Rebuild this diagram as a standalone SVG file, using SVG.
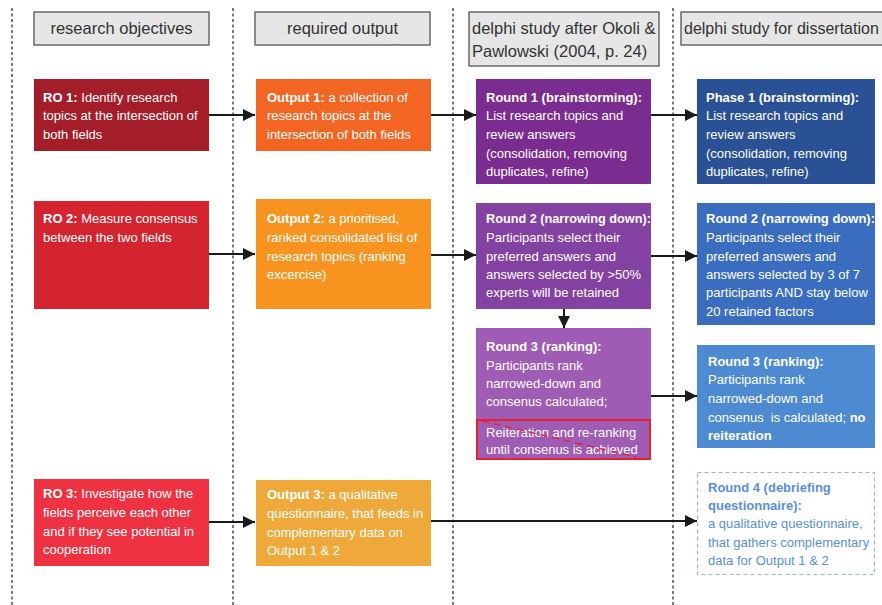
<svg xmlns="http://www.w3.org/2000/svg" width="882" height="605" viewBox="0 0 882 605">
<defs>
<marker id="ah" viewBox="0 0 12 12" refX="12" refY="6" markerWidth="12" markerHeight="12" markerUnits="userSpaceOnUse" orient="auto">
<path d="M0,0 L12,6 L0,12 z" fill="#1a1a1a"/>
</marker>
<style>
.div{stroke:#222;stroke-width:1.2;stroke-dasharray:3,2.5;fill:none}
.hdr rect{fill:#e6e6e6;stroke:#555;stroke-width:1.3}
.hdr text{font-family:"Liberation Sans",Arial,sans-serif;font-size:16.5px;fill:#333}
.box text{font-family:"Liberation Sans Narrow","Liberation Sans",Arial,sans-serif;font-size:13px;fill:#fff}
.b{font-weight:bold}
.con line{stroke:#1a1a1a;stroke-width:2;marker-end:url(#ah)}
</style>
</defs>
<rect width="882" height="605" fill="#fff"/>
<g id="dividers">
<line class="div" x1="12" y1="8" x2="12" y2="605"/>
<line class="div" x1="233" y1="8" x2="233" y2="605"/>
<line class="div" x1="453" y1="8" x2="453" y2="605"/>
<line class="div" x1="673" y1="8" x2="673" y2="605"/>
</g>
<g id="h1" class="hdr"><rect x="34" y="12" width="175" height="33"/><text x="121.5" y="34" text-anchor="middle">research objectives</text></g>
<g id="h2" class="hdr"><rect x="255" y="12" width="175" height="33"/><text x="342.5" y="34" text-anchor="middle">required output</text></g>
<g id="h3" class="hdr"><rect x="469" y="12" width="190" height="54"/><text x="472" y="34">delphi study after Okoli &amp;</text><text x="472" y="57">Pawlowski (2004, p. 24)</text></g>
<g id="h4" class="hdr"><rect x="681" y="12" width="215" height="33"/><text x="684" y="34" style="font-size:16px">delphi study for dissertation</text></g>

<g id="ro1" class="box"><rect x="34" y="79" width="175" height="72" fill="#a31e29"/>
<text x="43" y="102"><tspan class="b">RO 1:</tspan> Identify research</text><text x="43" y="120">topics at the intersection of</text><text x="43" y="139">both fields</text></g>
<g id="ro2" class="box"><rect x="34" y="201" width="175" height="108" fill="#d32430"/>
<text x="43" y="223"><tspan class="b">RO 2:</tspan> Measure consensus</text><text x="43" y="242">between the two fields</text></g>
<g id="ro3" class="box"><rect x="34" y="479" width="175" height="87" fill="#ee3242"/>
<text x="43" y="498"><tspan class="b">RO 3:</tspan> Investigate how the</text><text x="43" y="517">fields perceive each other</text><text x="43" y="536">and if they see potential in</text><text x="43" y="554">cooperation</text></g>

<g id="out1" class="box"><rect x="256" y="79" width="175" height="72" fill="#f36523"/>
<text x="267" y="102"><tspan class="b">Output 1:</tspan> a collection of</text><text x="267" y="120">research topics at the</text><text x="267" y="139">intersection of both fields</text></g>
<g id="out2" class="box"><rect x="256" y="199" width="175" height="110" fill="#f7931e"/>
<text x="267" y="223"><tspan class="b">Output 2:</tspan> a prioritised,</text><text x="267" y="242">ranked consolidated list of</text><text x="267" y="261">research topics (ranking</text><text x="267" y="279">excercise)</text></g>
<g id="out3" class="box"><rect x="256" y="480" width="175" height="86" fill="#eea93a"/>
<text x="267" y="499"><tspan class="b">Output 3:</tspan> a qualitative</text><text x="267" y="518">questionnaire, that feeds in</text><text x="267" y="537">complementary data on</text><text x="267" y="555">Output 1 &amp; 2</text></g>

<g id="r1" class="box"><rect x="476" y="79" width="175" height="105" fill="#7a2c91"/>
<text x="486" y="102" class="b">Round 1 (brainstorming):</text><text x="486" y="120">List research topics and</text><text x="486" y="139">review answers</text><text x="486" y="158">(consolidation, removing</text><text x="486" y="176">duplicates, refine)</text></g>
<g id="r2" class="box"><rect x="476" y="203" width="175" height="106" fill="#8342a2"/>
<text x="486" y="223" class="b" style="font-size:12.7px">Round 2 (narrowing down):</text><text x="486" y="242">Participants select their</text><text x="486" y="261">preferred answers and</text><text x="486" y="279">answers selected by &gt;50%</text><text x="486" y="297">experts will be retained</text></g>
<g id="r3" class="box"><rect x="476" y="328" width="175" height="132" fill="#9e5cb4"/>
<line x1="476" y1="419.5" x2="651" y2="419.5" stroke="#b27cc4" stroke-width="1"/>
<text x="486" y="351" class="b">Round 3 (ranking):</text><text x="486" y="370">Participants rank</text><text x="486" y="388">narrowed-down and</text><text x="486" y="406">consenus calculated;</text>
<rect x="477" y="420" width="173" height="39" fill="none" stroke="#e8202a" stroke-width="2"/>
<text x="486" y="437">Reiteration and re-ranking</text><text x="486" y="454">until consenus is achieved</text>
<line x1="482" y1="421" x2="636" y2="457" stroke="#e8202a" stroke-width="1.3" stroke-dasharray="7,5"/></g>

<g id="p1" class="box"><rect x="697" y="79" width="178" height="105" fill="#2a5096"/>
<text x="706" y="102" class="b">Phase 1 (brainstorming):</text><text x="706" y="120">List research topics and</text><text x="706" y="139">review answers</text><text x="706" y="158">(consolidation, removing</text><text x="706" y="176">duplicates, refine)</text></g>
<g id="d2" class="box"><rect x="697" y="203" width="178" height="122" fill="#3a6dbf"/>
<text x="706" y="223" class="b">Round 2 (narrowing down):</text><text x="706" y="242">Participants select their</text><text x="706" y="261">preferred answers and</text><text x="706" y="279">answers selected by 3 of 7</text><text x="706" y="297">participants AND stay below</text><text x="706" y="316">20 retained factors</text></g>
<g id="d3" class="box"><rect x="697" y="345" width="178" height="103" fill="#4e8ad2"/>
<text x="708" y="366" class="b">Round 3 (ranking):</text><text x="708" y="384">Participants rank</text><text x="708" y="403">narrowed-down and</text><text x="708" y="422" xml:space="preserve">consenus  is calculated; <tspan class="b">no</tspan></text><text x="708" y="440" class="b">reiteration</text></g>
<g id="d4" class="box"><rect x="697.5" y="472.5" width="177" height="102" fill="#fff" stroke="#8fb4e6" stroke-width="1.2" stroke-dasharray="4,3"/>
<text x="708" y="492" class="b" style="fill:#5a8fd8">Round 4 (debriefing</text><text x="708" y="510" class="b" style="fill:#5a8fd8">questionnaire):</text><text x="708" y="528" style="fill:#5a8fd8">a qualitative questionnaire,</text><text x="708" y="547" style="fill:#5a8fd8">that gathers complementary</text><text x="708" y="565" style="fill:#5a8fd8">data for Output 1 &amp; 2</text></g>

<g id="connectors" class="con">
<line x1="209" y1="115" x2="255" y2="115"/>
<line x1="431" y1="115" x2="476" y2="115"/>
<line x1="651" y1="115" x2="697" y2="115"/>
<line x1="209" y1="254" x2="255" y2="254"/>
<line x1="431" y1="255" x2="476" y2="255"/>
<line x1="651" y1="256" x2="697" y2="256"/>
<line x1="564" y1="309" x2="564" y2="328"/>
<line x1="651" y1="396" x2="697" y2="396"/>
<line x1="209" y1="522" x2="255" y2="522"/>
<line x1="431" y1="521" x2="697" y2="521"/>
</g>
</svg>
